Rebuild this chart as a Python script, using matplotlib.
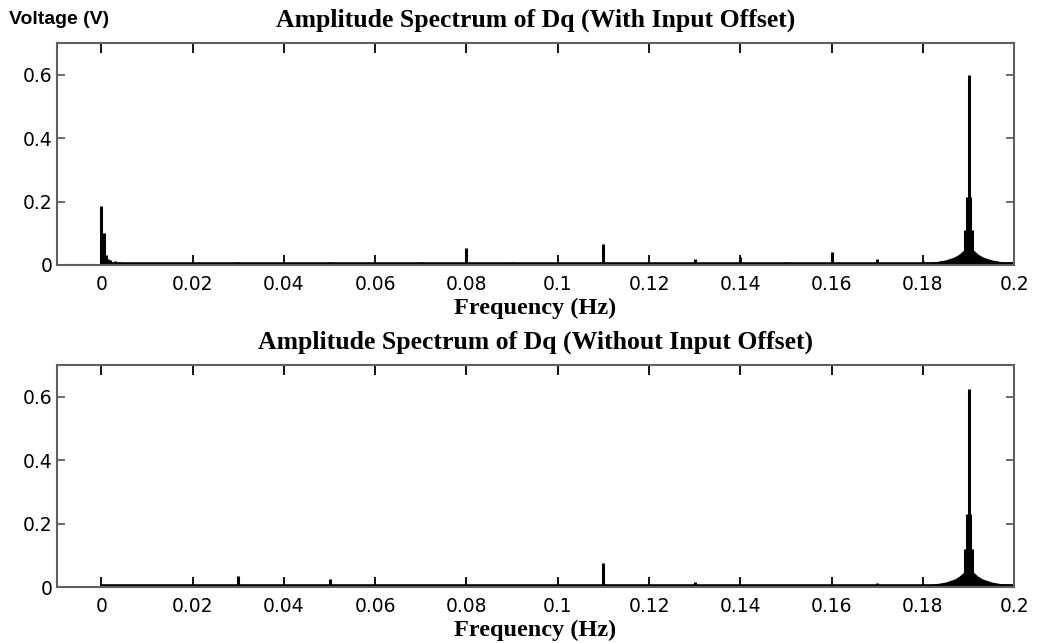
"""Spectres d'amplitude de Dq, avec et sans offset d'entrée (deux panneaux)."""

import matplotlib

matplotlib.use("Agg")
import matplotlib.pyplot as plt

# --- données -------------------------------------------------------------
x_ticks = [0, 0.02, 0.04, 0.06, 0.08, 0.1, 0.12, 0.14, 0.16, 0.18, 0.2]
x_tick_labels = ["0", "0.02", "0.04", "0.06", "0.08", "0.1", "0.12",
                 "0.14", "0.16", "0.18", "0.2"]
y_ticks = [0, 0.2, 0.4, 0.6]
y_tick_labels = ["0", "0.2", "0.4", "0.6"]

# niveau du fond de spectre
baseline_amp = 0.004

# raies du panneau haut (avec offset)
top_peak_freq = [0.0, 0.0005, 0.001, 0.0015, 0.002, 0.003, 0.004, 0.01,
                 0.03, 0.05, 0.07, 0.08, 0.09, 0.11, 0.12, 0.13, 0.14,
                 0.15, 0.16, 0.17, 0.18,
                 0.1893, 0.1897, 0.19, 0.1903, 0.1907]
top_peak_amp = [0.185, 0.10, 0.03, 0.02, 0.015, 0.012, 0.01, 0.006,
                0.008, 0.008, 0.008, 0.052, 0.008, 0.066, 0.006, 0.02, 0.025,
                0.008, 0.04, 0.018, 0.012,
                0.11, 0.215, 0.60, 0.215, 0.11]

# raies du panneau bas (sans offset)
bot_peak_freq = [0.01, 0.03, 0.05, 0.07, 0.09, 0.11, 0.13, 0.15, 0.17, 0.18,
                 0.1893, 0.1897, 0.19, 0.1903, 0.1907]
bot_peak_amp = [0.005, 0.035, 0.025, 0.005, 0.008, 0.075, 0.015, 0.004,
                0.012, 0.01,
                0.12, 0.23, 0.625, 0.23, 0.12]

# jupe autour de la raie à 0.19 Hz (enveloppe haute et basse)
skirt_freq = [0.176, 0.180, 0.183, 0.185, 0.187, 0.188, 0.189, 0.1895,
              0.1905, 0.191, 0.192, 0.193, 0.195, 0.197, 0.2]
skirt_high = [0.005, 0.007, 0.011, 0.016, 0.026, 0.035, 0.048, 0.06,
              0.06, 0.048, 0.035, 0.026, 0.016, 0.011, 0.009]
skirt_low = [0.0, 0.0, 0.0, 0.0, 0.0, 0.0, 0.006, 0.014,
             0.014, 0.006, 0.0, 0.0, 0.0, 0.0, 0.0]

titles = ["Amplitude Spectrum of Dq (With Input Offset)",
          "Amplitude Spectrum of Dq (Without Input Offset)"]

SERIF = "Liberation Serif"
GRIS = "#606060"


def tracer_panneau(ax, freqs, amps, titre):
    ax.hlines(baseline_amp, 0, 0.2, color="black", lw=2.6)
    ax.fill_between(skirt_freq, skirt_low, skirt_high, color="black", lw=0)
    ax.vlines(freqs, 0, amps, color="black", lw=2.2)

    ax.set_xlim(-0.0097, 0.2)
    ax.set_ylim(0, 0.7)
    ax.set_xticks(x_ticks, x_tick_labels)
    ax.set_yticks(y_ticks, y_tick_labels)
    ax.tick_params(direction="in", top=True, right=True, labelsize=13.5,
                   color=GRIS, width=1.3)
    ax.tick_params(axis="x", length=7, pad=7, color="black")
    ax.tick_params(axis="y", length=6, pad=3)
    for sp in ax.spines.values():
        sp.set_color(GRIS)
        sp.set_linewidth(1.5)

    ax.set_title(titre, fontfamily=SERIF, fontweight="bold", fontsize=18.5,
                 pad=12)
    ax.set_xlabel("Frequency (Hz)", fontfamily=SERIF, fontweight="bold",
                  fontsize=17.5, labelpad=3)


def main():
    fig = plt.figure(figsize=(10.37, 6.43), dpi=100)
    ax_haut = fig.add_axes([0.055, 0.588, 0.923, 0.345])
    ax_bas = fig.add_axes([0.055, 0.087, 0.923, 0.345])

    tracer_panneau(ax_haut, top_peak_freq, top_peak_amp, titles[0])
    tracer_panneau(ax_bas, bot_peak_freq, bot_peak_amp, titles[1])

    fig.text(0.009, 0.969, "Voltage (V)", fontfamily="Liberation Sans",
             fontweight="bold", fontsize=14, va="center", ha="left")

    fig.savefig("out.png", dpi=100)
    plt.close(fig)


if __name__ == "__main__":
    main()
